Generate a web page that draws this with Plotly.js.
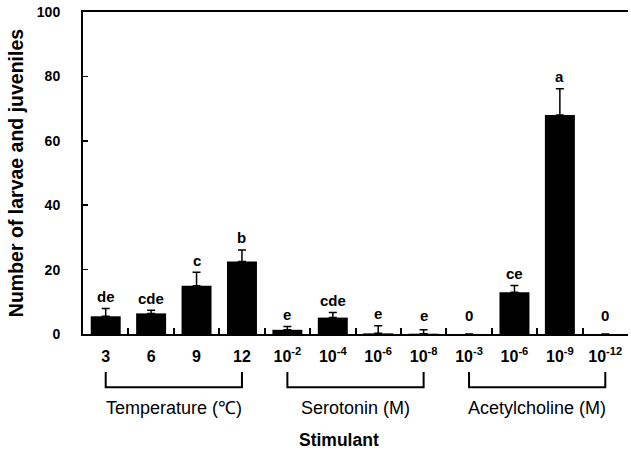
<!DOCTYPE html>
<html>
<head>
<meta charset="utf-8">
<script src="https://cdn.plot.ly/plotly-3.0.1.min.js"></script>
<style>html,body{margin:0;padding:0;background:#fff;}#chart{width:631px;height:455px;}</style>
</head>
<body>
<div id="chart"></div>
<script>
// ---- data ----
const tickLabels = ["3","6","9","12",
  "10<sup>-2</sup>","10<sup>-4</sup>","10<sup>-6</sup>","10<sup>-8</sup>",
  "10<sup>-3</sup>","10<sup>-6</sup>","10<sup>-9</sup>","10<sup>-12</sup>"];
const values  = [5.5, 6.4, 15.0, 22.5, 1.3, 5.1, 0.2, 0.1, 0, 13.0, 68.0, 0];
const errors  = [2.4, 1.0, 4.2, 3.6, 1.0, 1.6, 2.4, 1.2, 0, 2.1, 8.2, 0];
const letters = ["de","cde","c","b","e","cde","e","e","0","ce","a","0"];
const groupNames = ["Temperature (℃)","Serotonin (M)","Acetylcholine (M)"];
const groupStart = [0, 4, 8];
const groupEnd   = [3, 7, 11];
const xTitle = "Stimulant";
const yTitle = "Number of larvae and juveniles";

const idx = values.map((_, i) => i);
const FONT = "Liberation Sans, Arial, sans-serif";

const trace = {
  type: "bar",
  x: idx,
  y: values,
  width: 0.66,
  marker: {color: "#000", line: {width: 0}},
  error_y: {type: "data", symmetric: false, array: errors, arrayminus: errors.map(() => 0),
            color: "#000", thickness: 1.5, width: 4},
  hoverinfo: "none"
};

const annotations = letters.map((t, i) => ({
  x: i, y: Math.max(values[i] + errors[i], 2), xref: "x", yref: "y",
  text: t, showarrow: false, yanchor: "middle", yshift: 12,
  font: {family: FONT, size: 15, color: "#000", weight: "bold"}
}));
groupNames.forEach((g, k) => {
  annotations.push({
    x: (groupStart[k] + groupEnd[k]) / 2, y: -0.23, xref: "x", yref: "paper",
    text: g, showarrow: false, yanchor: "middle",
    font: {family: FONT, size: 18, color: "#000"}
  });
});
annotations.push({
  x: 0.5, y: -0.329, xref: "paper", yref: "paper", xshift: -17,
  text: xTitle, showarrow: false, yanchor: "middle",
  font: {family: FONT, size: 17.5, color: "#000", weight: "bold"}
});

const shapes = groupNames.map((g, k) => ({
  type: "path", xref: "x", yref: "paper",
  path: `M ${groupStart[k]} -0.118 L ${groupStart[k]} -0.165 L ${groupEnd[k]} -0.165 L ${groupEnd[k]} -0.118`,
  line: {color: "#000", width: 2}
}));

const minorVals = idx.slice(0, -1).map(i => i + 0.5);

const layout = {
  width: 631, height: 455,
  margin: {l: 83, r: 3, t: 12, b: 121},
  paper_bgcolor: "#fff", plot_bgcolor: "#fff",
  showlegend: false,
  xaxis: {
    range: [-0.5, 11.5], tickmode: "array", tickvals: idx, ticktext: tickLabels,
    ticks: "", showgrid: false, zeroline: false,
    showline: true, linecolor: "#000", linewidth: 2, mirror: true,
    minor: {tickmode: "array", tickvals: minorVals, ticks: "inside", ticklen: 6, tickcolor: "#000", tickwidth: 2, showgrid: false},
    tickfont: {family: FONT, size: 16, color: "#000", weight: "bold"},
    ticklabelstandoff: 7,
    fixedrange: true
  },
  yaxis: {
    range: [0, 100], dtick: 20, tick0: 0,
    ticks: "inside", ticklen: 5, tickwidth: 1.5, tickcolor: "#000",
    showgrid: false, zeroline: false,
    showline: true, linecolor: "#000", linewidth: 2,
    tickfont: {family: FONT, size: 14, color: "#000", weight: "bold"},
    ticklabelstandoff: 18,
    title: {text: yTitle, font: {family: FONT, size: 19.5, color: "#000", weight: "bold"}, standoff: 8},
    fixedrange: true
  },
  annotations: annotations,
  shapes: shapes
};

Plotly.newPlot("chart", [trace], layout, {staticPlot: true, displayModeBar: false});
</script>
</body>
</html>
